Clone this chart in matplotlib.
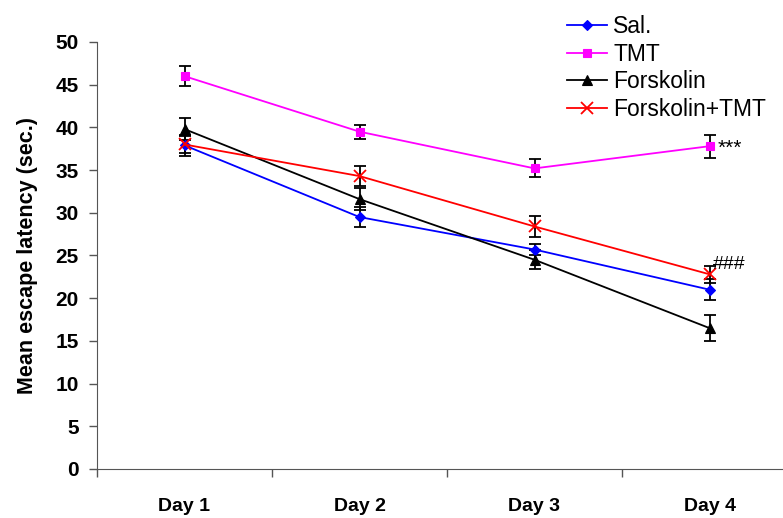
import numpy as np
import matplotlib.pyplot as plt

plt.rcParams['font.family'] = ['Liberation Sans', 'DejaVu Sans']

days = ['Day 1', 'Day 2', 'Day 3', 'Day 4']
sal = [37.9, 29.5, 25.7, 21.0]
sal_err = [1.2, 1.2, 0.6, 1.2]
tmt = [46.0, 39.5, 35.2, 37.8]
tmt_err = [1.2, 0.8, 1.05, 1.35]
forsk = [39.8, 31.6, 24.5, 16.5]
forsk_err = [1.3, 1.3, 1.1, 1.5]
forsk_tmt = [38.0, 34.3, 28.4, 22.8]
forsk_tmt_err = [1.0, 1.2, 1.2, 1.0]

x = np.arange(1, len(days) + 1)

fig = plt.figure(figsize=(7.83, 5.18), dpi=100)
ax = fig.add_axes([97 / 783, 49 / 518, 700 / 783, 427 / 518])

series = [
    (sal, sal_err, 'Sal.', 'blue', 'D', 5),
    (tmt, tmt_err, 'TMT', 'magenta', 's', 6),
    (forsk, forsk_err, 'Forskolin', 'black', '^', 7),
    (forsk_tmt, forsk_tmt_err, 'Forskolin+TMT', 'red', 'x', 8),
]
for vals, err, lab, col, mk, ms in series:
    ax.errorbar(x, vals, yerr=err, ecolor='black', elinewidth=1.3, capsize=4,
                capthick=1.3, fmt='none', zorder=2)
    ax.plot(x, vals, color=col, marker=mk, markersize=ms, linewidth=1.3,
            markeredgewidth=1.3 if mk == 'x' else 0.8, label=lab, zorder=3)

# significance marks
ax.text(4.045, tmt[3] - 0.3, '***', fontsize=15, va='center', ha='left')
ax.text(4.02, forsk_tmt[3] + 1.1, '###', fontsize=14, va='center', ha='left')

ax.set_xlim(0.5, 4.5)
ax.set_ylim(0, 50)
ax.set_yticks(np.arange(0, 51, 5))
ax.set_xticks(np.arange(0.5, 4.6, 1.0))
ax.set_xticklabels([])
ax.set_xticks(x, minor=True)
ax.set_xticklabels(days, minor=True, fontsize=14, fontweight='bold')
ax.tick_params(axis='x', which='minor', length=0, pad=21)
ax.tick_params(axis='x', which='major', length=6, width=1, color='#555555')
ax.tick_params(axis='y', length=6, width=1, labelsize=15, color='#555555', pad=7)
for t in ax.get_yticklabels():
    t.set_fontweight('bold')
ax.set_ylabel('Mean escape latency (sec.)', fontsize=15.5, fontweight='bold', labelpad=13)

ax.spines['top'].set_visible(False)
ax.spines['right'].set_visible(False)
ax.spines['left'].set_color('#555555')
ax.spines['bottom'].set_color('#555555')

ax.legend(loc='upper left', bbox_to_anchor=(553 / 783, 0.997), bbox_transform=fig.transFigure,
          frameon=False, fontsize=16.5, handlelength=1.75, handletextpad=0.27,
          labelspacing=0.2, borderaxespad=0.2)

fig.savefig('out.png', dpi=100)
